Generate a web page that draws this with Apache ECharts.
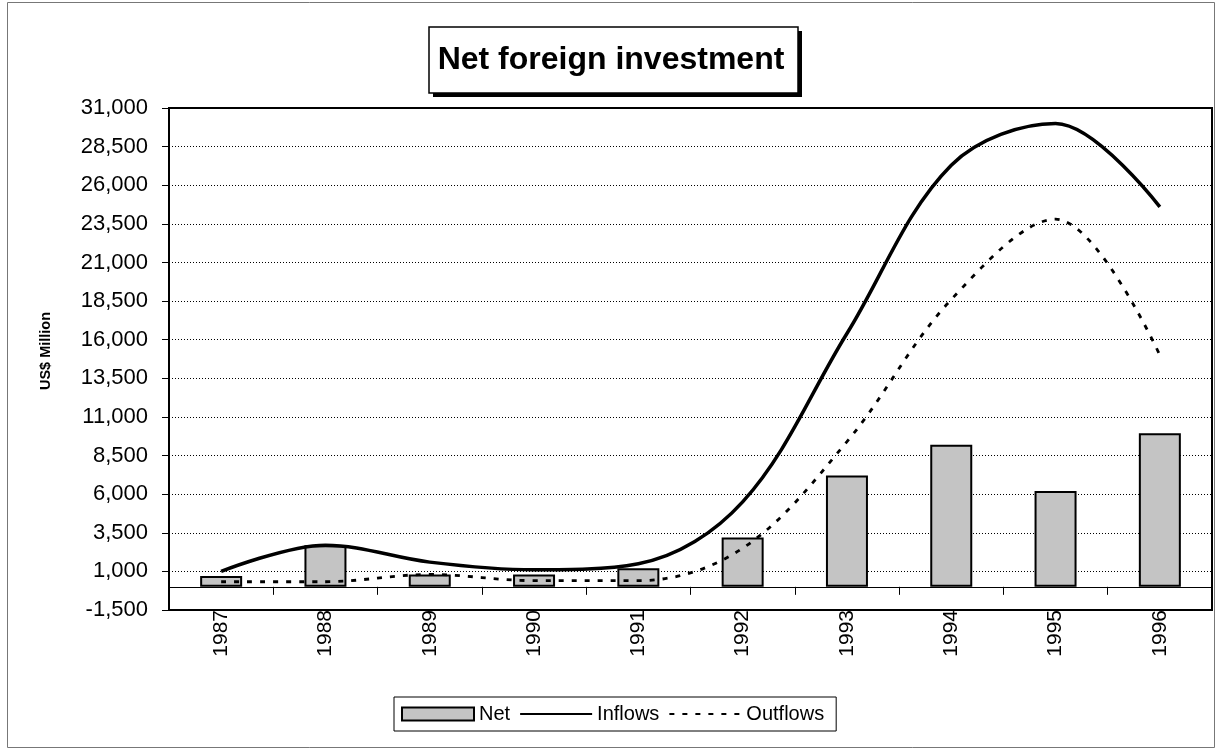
<!DOCTYPE html>
<html>
<head>
<meta charset="utf-8">
<script src="https://cdn.jsdelivr.net/npm/echarts@6/dist/echarts.min.js"></script>
<style>
html,body{margin:0;padding:0;background:#fff;}
#chart{width:1222px;height:750px;}
</style>
</head>
<body>
<div id="chart"></div>
<script>
var years = ['1987','1988','1989','1990','1991','1992','1993','1994','1995','1996'];
var netValues = [700, 2700, 800, 800, 1200, 3200, 7200, 9200, 6200, 9950];
var inflowValues = [1000, 2700, 1600, 1100, 1500, 5500, 16400, 27300, 30000, 24600];
var outflowValues = [330, 330, 800, 400, 400, 2500, 9400, 18600, 23800, 15000];
var yMin = -1500, yMax = 31000, yStep = 2500;

var FONT = 'Liberation Sans, Arial, Helvetica, sans-serif';
var chart = echarts.init(document.getElementById('chart'));
chart.setOption({
  backgroundColor: '#fff',
  animation: false,
  title: {
    text: 'Net foreign investment',
    left: 'center',
    top: 44,
    padding: [0, 0, 0, 4],
    z: 10,
    textStyle: { fontFamily: FONT, fontSize: 32, fontWeight: 'bold', color: '#000' }
  },
  graphic: [{
    type: 'rect', silent: true, z: -10,
    shape: { x: 7.5, y: 2.5, width: 1207, height: 745 },
    style: { fill: 'none', stroke: '#777', lineWidth: 1 }
  }, {
    type: 'rect', silent: true, z: 1,
    shape: { x: 433, y: 31, width: 369, height: 66 },
    style: { fill: '#000' }
  }, {
    type: 'rect', silent: true, z: 2,
    shape: { x: 429, y: 27, width: 369, height: 66 },
    style: { fill: '#fff', stroke: '#000', lineWidth: 1.5 }
  }],
  legend: {
    left: 394, top: 697,
    padding: [7, 12, 7, 7],
    borderColor: '#000', borderWidth: 1,
    itemWidth: 72, itemHeight: 13, itemGap: 9,
    textStyle: { fontFamily: FONT, fontSize: 20, color: '#000' },
    data: [{ name: 'Net', icon: 'rect' }, 'Inflows', 'Outflows']
  },
  grid: {
    left: 169, right: 10, top: 108, bottom: 140,
    show: true, borderColor: '#000', borderWidth: 2, backgroundColor: '#fff'
  },
  xAxis: [{
    type: 'category', data: years, position: 'bottom', boundaryGap: true,
    axisLine: { onZero: true, lineStyle: { color: '#000', width: 1.2 } },
    axisTick: { show: true, length: 8, lineStyle: { color: '#000', width: 1 } },
    axisLabel: { show: false },
    splitLine: { show: false }
  }, {
    type: 'category', data: years, position: 'bottom', boundaryGap: true,
    axisLine: { onZero: false, lineStyle: { color: '#000', width: 2 } },
    axisTick: { show: false },
    axisLabel: { rotate: 90, fontFamily: FONT, fontSize: 21, color: '#000', margin: 0 },
    splitLine: { show: false }
  }],
  yAxis: {
    type: 'value', min: yMin, max: yMax, interval: yStep,
    name: 'US$ Million', nameLocation: 'middle', nameGap: 116, nameRotate: 90,
    nameTextStyle: { fontFamily: FONT, fontSize: 14.5, fontWeight: 'bold', color: '#000', padding: [0, 0, 0, 16] },
    axisLine: { show: true, lineStyle: { color: '#000', width: 2 } },
    axisTick: { show: true, length: 7, lineStyle: { color: '#000', width: 1 } },
    axisLabel: {
      fontFamily: FONT, fontSize: 22, color: '#000', margin: 21,
      formatter: function (v) { return v.toLocaleString('en-US'); }
    },
    splitLine: { show: true, lineStyle: { color: '#000', width: 1, type: [1, 2] } }
  },
  series: [{
    name: 'Net', type: 'bar', xAxisIndex: 0, data: netValues, barWidth: 42, z: 2,
    itemStyle: { color: '#c4c4c4', borderColor: '#000', borderWidth: 2 }
  }, {
    name: 'Inflows', type: 'line', xAxisIndex: 0, data: inflowValues, smooth: 0.35,
    symbol: 'none', z: 3,
    lineStyle: { color: '#000', width: 3.5 }, itemStyle: { color: 'rgba(0,0,0,0)' }
  }, {
    name: 'Outflows', type: 'line', xAxisIndex: 0, data: outflowValues, smooth: 0.35,
    symbol: 'none', z: 3,
    lineStyle: { color: '#000', width: 2.8, type: [5, 8] }, itemStyle: { color: 'rgba(0,0,0,0)' }
  }]
});
</script>
</body>
</html>
